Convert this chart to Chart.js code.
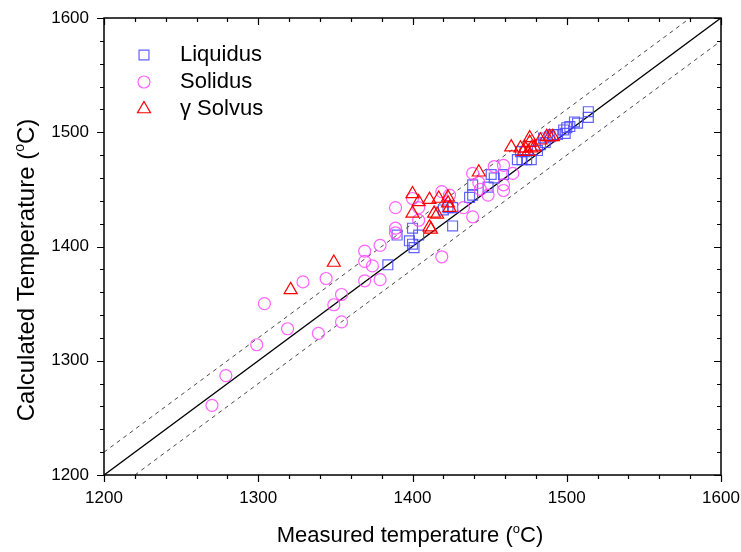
<!DOCTYPE html>
<html>
<head>
<meta charset="utf-8">
<script src="https://cdn.jsdelivr.net/npm/chart.js@4/dist/chart.umd.min.js"></script>
<style>
  html, body { margin: 0; padding: 0; background: #fff; }
  #c { display: block; }
</style>
</head>
<body>
<canvas id="c" width="741" height="552"></canvas>
<script>
// ---------- data ----------
const seriesNames = ['Liquidus', 'Solidus', 'γ Solvus'];

const liquidusMeasured   = [1384,1390,1398,1400,1401,1400,1404,1420,1423,1426,1426,1437,1439,1439,1449,1451,1453,1459,1468,1471,1474,1477,1470,1473,1481,1483,1486,1485,1489,1491,1494,1498,1499,1500,1502,1505,1507,1514,1514];
const liquidusCalculated = [1384,1410,1405,1402,1399,1416,1410,1432,1434,1434,1418,1443,1454,1445,1452,1463,1460,1463,1476,1476,1476,1476,1483,1483,1484,1489,1491,1495,1496,1498,1498,1502,1499,1504,1505,1509,1508,1513,1518];

const solidusMeasured   = [1270,1279,1299,1304,1319,1329,1339,1344,1349,1354,1354,1369,1369,1374,1369,1379,1379,1389,1389,1389,1400,1404,1404,1419,1419,1424,1433,1439,1439,1443,1444,1449,1453,1459,1459,1459,1465];
const solidusCalculated = [1261,1287,1314,1350,1328,1369,1324,1372,1349,1358,1334,1396,1387,1383,1370,1371,1401,1434,1416,1412,1442,1434,1423,1448,1391,1445,1434,1464,1426,1456,1450,1445,1470,1471,1454,1449,1464];

const solvusMeasured   = [1321,1349,1400,1400,1404,1411,1417,1423,1414,1416,1411,1412,1423,1424,1443,1464,1470,1476,1476,1473,1477,1479,1472,1475,1483,1487,1489,1491];
const solvusCalculated = [1362,1386,1446,1429,1439,1441,1442,1443,1429,1428,1417,1415,1438,1434,1465,1487,1486,1495,1491,1486,1486,1487,1483,1483,1493,1496,1496,1496];

const axisMin = 1200, axisMax = 1600;
const majorStep = 100, minorStep = 20;
const bandOffset = 20;   // dashed lines at y = x ± 20

const xTitle = ['Measured temperature (', 'o', 'C)'];
const yTitle = ['Calculated Temperature (', 'o', 'C)'];

// ---------- build ----------
const pts = (xs, ys) => xs.map((x, i) => ({ x: x, y: ys[i] }));
const FONT = '"Liberation Sans", Arial, sans-serif';

const colors = {
  liq: 'rgba(70,70,255,0.85)',
  sol: 'rgba(255,70,255,0.85)',
  gam: 'rgb(255,0,0)'
};

const markerDefs = [
  { style: 'rect', radius: 7, color: colors.liq },
  { style: 'circle', radius: 6, color: colors.sol },
  { style: 'triangle', radius: 7.5, color: colors.gam }
];

const PLOT = { left: 104, right: 721, top: 18, bottom: 475 };

const framePlugin = {
  id: 'frameAndTitles',
  afterDraw(chart) {
    const ctx = chart.ctx;
    const a = chart.chartArea;
    const xs = chart.scales.x, ys = chart.scales.y;
    ctx.save();
    ctx.strokeStyle = '#000';
    ctx.lineWidth = 1.5;
    ctx.strokeRect(a.left, a.top, a.right - a.left, a.bottom - a.top);
    ctx.lineWidth = 1.2;
    ctx.beginPath();
    for (let v = axisMin; v <= axisMax; v += minorStep) {
      const major = (v % majorStep) === 0;
      const len = major ? 7 : 4;
      const px = Math.round(xs.getPixelForValue(v)) + 0.5;
      const py = Math.round(ys.getPixelForValue(v)) + 0.5;
      ctx.moveTo(px, a.bottom); ctx.lineTo(px, a.bottom + len);
      ctx.moveTo(px, a.top); ctx.lineTo(px, a.top + len);
      ctx.moveTo(a.left, py); ctx.lineTo(a.left - len, py);
      ctx.moveTo(a.right, py); ctx.lineTo(a.right - len, py);
    }
    ctx.stroke();

    const drawSup = (parts, size) => {
      const small = Math.round(size * 0.6);
      ctx.font = size + 'px ' + FONT;
      const w0 = ctx.measureText(parts[0]).width;
      ctx.font = small + 'px ' + FONT;
      const w1 = ctx.measureText(parts[1]).width;
      ctx.font = size + 'px ' + FONT;
      const w2 = ctx.measureText(parts[2]).width;
      let x = -(w0 + w1 + w2) / 2;
      ctx.textBaseline = 'alphabetic';
      ctx.textAlign = 'left';
      ctx.fillText(parts[0], x, 0); x += w0;
      ctx.font = small + 'px ' + FONT;
      ctx.fillText(parts[1], x, -size * 0.42); x += w1;
      ctx.font = size + 'px ' + FONT;
      ctx.fillText(parts[2], x, 0);
    };
    ctx.fillStyle = '#000';
    ctx.save();
    ctx.translate(410, 542);
    drawSup(xTitle, 22);
    ctx.restore();
    ctx.save();
    ctx.translate(34, 270);
    ctx.rotate(-Math.PI / 2);
    drawSup(yTitle, 24);
    ctx.restore();

    // legend
    const legX = 144, legTextX = 180, legY0 = 55, legDy = 27;
    seriesNames.forEach((name, i) => {
      const m = markerDefs[i];
      const y = legY0 + i * legDy;
      ctx.strokeStyle = m.color;
      ctx.fillStyle = 'rgba(0,0,0,0)';
      ctx.lineWidth = 1.2;
      Chart.helpers.drawPoint(ctx, { pointStyle: m.style, radius: m.radius, rotation: 0, borderWidth: 1.2 }, legX, y);
      ctx.fillStyle = '#000';
      ctx.font = '22px ' + FONT;
      ctx.textBaseline = 'middle';
      ctx.textAlign = 'left';
      ctx.fillText(name, legTextX, y);
    });
    ctx.restore();
  }
};

const scatterDs = (label, data, m, order) => ({
  type: 'scatter',
  label: label,
  data: data,
  pointStyle: m.style,
  pointRadius: m.radius,
  pointHoverRadius: m.radius,
  pointBorderColor: m.color,
  pointBackgroundColor: 'rgba(0,0,0,0)',
  pointBorderWidth: 1.2,
  showLine: false,
  order: order
});

const lineDs = (data, dashed, order) => ({
  type: 'line',
  label: '',
  data: data,
  borderColor: dashed ? '#333' : '#000',
  borderWidth: dashed ? 0.9 : 1.4,
  borderDash: dashed ? [4, 4] : [],
  pointRadius: 0,
  fill: false,
  tension: 0,
  order: order
});

new Chart(document.getElementById('c'), {
  type: 'scatter',
  data: {
    datasets: [
      scatterDs(seriesNames[0], pts(liquidusMeasured, liquidusCalculated), markerDefs[0], 3),
      scatterDs(seriesNames[1], pts(solidusMeasured, solidusCalculated), markerDefs[1], 2),
      scatterDs(seriesNames[2], pts(solvusMeasured, solvusCalculated), markerDefs[2], 1),
      lineDs([{ x: axisMin, y: axisMin }, { x: axisMax, y: axisMax }], false, 5),
      lineDs([{ x: axisMin, y: axisMin + bandOffset }, { x: axisMax - bandOffset, y: axisMax }], true, 6),
      lineDs([{ x: axisMin + bandOffset, y: axisMin }, { x: axisMax, y: axisMax - bandOffset }], true, 6)
    ]
  },
  options: {
    responsive: false,
    animation: false,
    devicePixelRatio: 1,
    layout: { padding: { top: PLOT.top, right: 741 - PLOT.right, left: 0, bottom: 0 } },
    plugins: { legend: { display: false }, tooltip: { enabled: false } },
    scales: {
      x: {
        type: 'linear', min: axisMin, max: axisMax,
        afterFit(s) { s.height = 552 - PLOT.bottom; s.paddingLeft = 0; s.paddingRight = 0; },
        grid: { drawOnChartArea: false, drawTicks: true, tickLength: 7, color: 'rgba(0,0,0,0)' },
        border: { display: false },
        ticks: {
          stepSize: minorStep, autoSkip: false, maxRotation: 0, padding: 6,
          color: '#000', font: { family: FONT, size: 17 },
          callback: (v) => (v % majorStep === 0 ? String(v) : '')
        }
      },
      y: {
        type: 'linear', min: axisMin, max: axisMax,
        afterFit(s) { s.width = PLOT.left; s.paddingTop = 0; s.paddingBottom = 0; },
        grid: { drawOnChartArea: false, drawTicks: true, tickLength: 7, color: 'rgba(0,0,0,0)' },
        border: { display: false },
        ticks: {
          stepSize: minorStep, autoSkip: false, padding: 8,
          color: '#000', font: { family: FONT, size: 17 },
          callback: (v) => (v % majorStep === 0 ? String(v) : '')
        }
      }
    }
  },
  plugins: [framePlugin]
});
</script>
</body>
</html>
